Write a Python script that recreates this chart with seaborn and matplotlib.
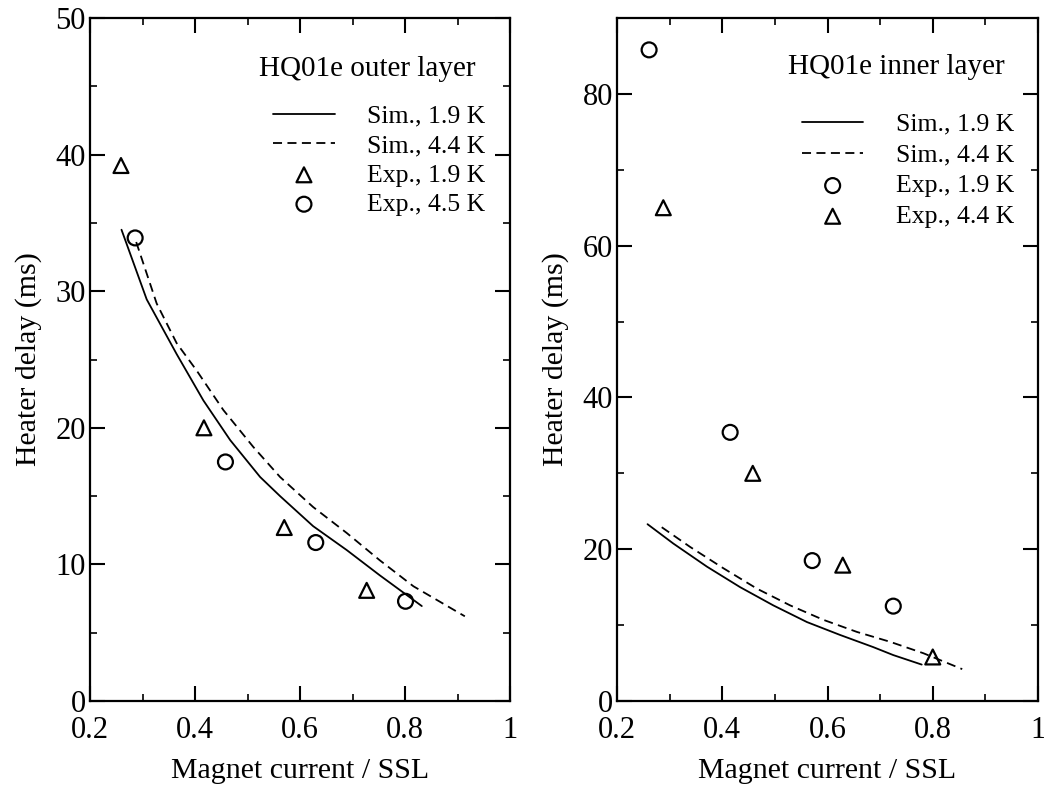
import matplotlib
matplotlib.use("Agg")
import matplotlib.pyplot as plt
from matplotlib.ticker import MultipleLocator
import seaborn as sns

# ---- Outer layer data ----
outer_sim19_x = [0.26, 0.308, 0.365, 0.416, 0.467, 0.524, 0.562, 0.625, 0.689, 0.752, 0.832]
outer_sim19_y = [34.5, 29.4, 25.4, 22.0, 19.1, 16.4, 15.0, 12.8, 11.05, 9.2, 6.95]
outer_sim44_x = [0.288, 0.327, 0.365, 0.403, 0.454, 0.511, 0.562, 0.625, 0.689, 0.752, 0.816, 0.914]
outer_sim44_y = [33.6, 29.1, 26.2, 24.2, 21.3, 18.6, 16.4, 14.2, 12.3, 10.3, 8.4, 6.2]
outer_exp19_x = [0.259, 0.417, 0.570, 0.727]
outer_exp19_y = [39.2, 20.0, 12.7, 8.1]
outer_exp45_x = [0.286, 0.458, 0.630, 0.801]
outer_exp45_y = [33.9, 17.5, 11.6, 7.3]

# ---- Inner layer data ----
inner_sim19_x = [0.258, 0.307, 0.371, 0.434, 0.497, 0.561, 0.624, 0.687, 0.725, 0.779]
inner_sim19_y = [23.3, 20.75, 17.7, 15.0, 12.6, 10.4, 8.7, 7.1, 6.05, 4.8]
inner_sim44_x = [0.285, 0.339, 0.402, 0.466, 0.529, 0.592, 0.656, 0.719, 0.782, 0.856]
inner_sim44_y = [22.9, 20.3, 17.5, 14.8, 12.6, 10.7, 9.1, 7.8, 6.3, 4.2]
inner_exp19_x = [0.261, 0.415, 0.571, 0.725]
inner_exp19_y = [85.8, 35.4, 18.5, 12.5]
inner_exp44_x = [0.288, 0.458, 0.629, 0.800]
inner_exp44_y = [65.0, 30.0, 17.9, 5.8]

x_label = "Magnet current / SSL"
y_label = "Heater delay (ms)"

sns.set_style("ticks")
plt.rcParams['font.family'] = ['Liberation Serif', 'DejaVu Serif']
plt.rcParams['text.color'] = 'black'
plt.rcParams['axes.labelcolor'] = 'black'
plt.rcParams['xtick.color'] = 'black'
plt.rcParams['ytick.color'] = 'black'
plt.rcParams['axes.edgecolor'] = 'black'

fig = plt.figure(figsize=(10.44, 7.85), dpi=100)
ax1 = fig.add_axes([90/1044, 84/785, 420/1044, 683/785])
ax2 = fig.add_axes([617/1044, 84/785, 421/1044, 683/785])

lw = 1.3
mk = dict(s=115, facecolor='none', edgecolor='black', linewidth=1.6, zorder=3)


def draw(ax, s19x, s19y, s44x, s44y, e1x, e1y, e1m, e1lab, e2x, e2y, e2m, e2lab,
         ymax, ymin, title, yticks, title_xy, leg_xy, lspace):
    sns.lineplot(x=s19x, y=s19y, ax=ax, color='black', lw=lw, label="Sim., 1.9 K",
                 sort=False, estimator=None)
    sns.lineplot(x=s44x, y=s44y, ax=ax, color='black', lw=lw, label="Sim., 4.4 K",
                 sort=False, estimator=None)
    ax.lines[-1].set_dashes((5, 3))
    sns.scatterplot(x=e1x, y=e1y, ax=ax, marker=e1m, label=e1lab, **mk)
    sns.scatterplot(x=e2x, y=e2y, ax=ax, marker=e2m, label=e2lab, **mk)
    ax.set_xlim(0.2, 1.0)
    ax.set_ylim(0, ymax)
    ax.set_xticks([0.2, 0.4, 0.6, 0.8, 1.0])
    ax.set_xticklabels(["0.2", "0.4", "0.6", "0.8", "1"])
    ax.set_yticks(yticks)
    ax.xaxis.set_minor_locator(MultipleLocator(0.1))
    ax.yaxis.set_minor_locator(MultipleLocator(ymin))
    ax.tick_params(which='major', direction='in', length=11, width=1.5,
                   top=True, right=True, labelsize=22)
    ax.tick_params(axis='x', which='major', pad=11)
    ax.tick_params(axis='y', which='major', pad=3)
    ax.tick_params(which='minor', direction='in', length=5, width=1.2,
                   top=True, right=True)
    for sp in ax.spines.values():
        sp.set_linewidth(1.6)
        sp.set_visible(True)
        sp.set_color('black')
    ax.set_xlabel(x_label, fontsize=21.5, labelpad=9)
    ax.set_ylabel(y_label, fontsize=21.5, labelpad=10)
    ax.text(title_xy[0], title_xy[1], title, transform=ax.transAxes, fontsize=21,
            ha='left', va='top')
    leg = ax.legend(loc='upper left', bbox_to_anchor=leg_xy, frameon=False,
                    fontsize=18.5, handlelength=2.4, handletextpad=1.25,
                    labelspacing=lspace, borderpad=0.0, borderaxespad=0.0)
    for h in leg.legend_handles:
        try:
            h.set_sizes([115])
        except Exception:
            pass


draw(ax1, outer_sim19_x, outer_sim19_y, outer_sim44_x, outer_sim44_y,
     outer_exp19_x, outer_exp19_y, '^', "Exp., 1.9 K",
     outer_exp45_x, outer_exp45_y, 'o', "Exp., 4.5 K",
     50, 5, "HQ01e outer layer", [0, 10, 20, 30, 40, 50],
     (0.402, 0.945), (0.436, 0.873), 0.25)
draw(ax2, inner_sim19_x, inner_sim19_y, inner_sim44_x, inner_sim44_y,
     inner_exp19_x, inner_exp19_y, 'o', "Exp., 1.9 K",
     inner_exp44_x, inner_exp44_y, '^', "Exp., 4.4 K",
     90, 10, "HQ01e inner layer", [0, 20, 40, 60, 80],
     (0.406, 0.948), (0.439, 0.861), 0.30)

fig.savefig("out.png", dpi=100)
